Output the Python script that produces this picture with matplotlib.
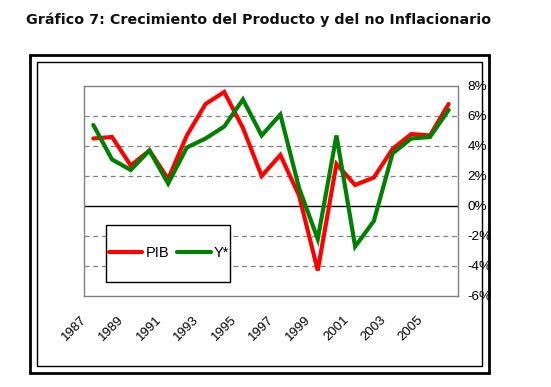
import matplotlib
matplotlib.use("Agg")
import matplotlib.pyplot as plt
import matplotlib.transforms as mtransforms
from matplotlib.patches import Rectangle

# datos
years = list(range(1987, 2007))
pib = [4.5, 4.6, 2.7, 3.7, 1.8, 4.7, 6.8, 7.6, 5.2, 2.0,
       3.4, 0.7, -4.3, 2.8, 1.4, 1.9, 3.8, 4.8, 4.7, 6.8]
ystar = [5.4, 3.1, 2.4, 3.7, 1.5, 3.9, 4.5, 5.3, 7.1, 4.7,
         6.1, 1.2, -2.2, 4.7, -2.7, -1.0, 3.5, 4.5, 4.6, 6.4]
yticks = [-6, -4, -2, 0, 2, 4, 6, 8]
xlabels = [str(y) for y in years[::2]]

W, H = 551, 387
fig = plt.figure(figsize=(W / 100, H / 100), dpi=100)

fig.text(259 / W, 1 - 20 / H,
         "Gráfico 7: Crecimiento del Producto y del no Inflacionario",
         ha="center", va="center", fontsize=10.3, fontweight="bold",
         family="DejaVu Sans", color="#111111")

# marco doble alrededor del grafico
fig.patches.append(Rectangle((30 / W, 1 - 373 / H), 459 / W, 318 / H,
                             transform=fig.transFigure, fill=False,
                             edgecolor="black", linewidth=2.0))
fig.patches.append(Rectangle((37 / W, 1 - 366 / H), 445 / W, 304 / H,
                             transform=fig.transFigure, fill=False,
                             edgecolor="black", linewidth=1.0))

ax = fig.add_axes([84 / W, 1 - 296 / H, 374 / W, 210 / H])
x = list(range(len(years)))

ax.plot(x, pib, color="#FF0000", linewidth=3.0, label="PIB",
        solid_capstyle="round", solid_joinstyle="miter", zorder=3)
ax.plot(x, ystar, color="#008000", linewidth=3.0, label="Y*",
        solid_capstyle="round", solid_joinstyle="miter", zorder=3)

ax.set_xlim(-0.5, len(years) - 0.5)
ax.set_ylim(-6, 8)

for v in yticks:
    if v in (-6, 8):
        continue
    if v == 0:
        ax.axhline(0, color="black", linewidth=1.0, zorder=2)
    else:
        ax.axhline(v, color="#808080", linewidth=0.9, linestyle=(0, (4, 3)),
                   zorder=1)

ax.yaxis.tick_right()
ax.set_yticks(yticks)
ax.set_yticklabels([f"{v}%" for v in yticks])
ax.tick_params(axis="y", length=0, pad=7, labelsize=9.7)

ax.set_xticks(x[::2])
ax.set_xticklabels(xlabels, rotation=45, ha="right", va="center",
                   rotation_mode="anchor")
ax.tick_params(axis="x", length=0, pad=16, labelsize=9.5)
offset = mtransforms.ScaledTranslation(-8.5 / 100, 0, fig.dpi_scale_trans)
for lbl in ax.get_xticklabels():
    lbl.set_transform(lbl.get_transform() + offset)
for lbl in ax.get_xticklabels() + ax.get_yticklabels():
    lbl.set_family("Liberation Sans")

for s in ax.spines.values():
    s.set_color("#808080")
    s.set_linewidth(1.0)

# caja de la leyenda
ax.add_patch(Rectangle((22 / 374, 14 / 210), 124 / 374, 57 / 210,
                       transform=ax.transAxes, facecolor="white",
                       edgecolor="black", linewidth=1.0, zorder=4))
leg = ax.legend(loc="center", bbox_to_anchor=(0.227, 0.205), ncol=2,
                frameon=False, prop={"family": "Liberation Sans", "size": 10.5},
                handlelength=2.3, handletextpad=0.2, columnspacing=0.55,
                borderpad=0.1)
leg.set_zorder(5)

fig.savefig("out.png", dpi=100)
